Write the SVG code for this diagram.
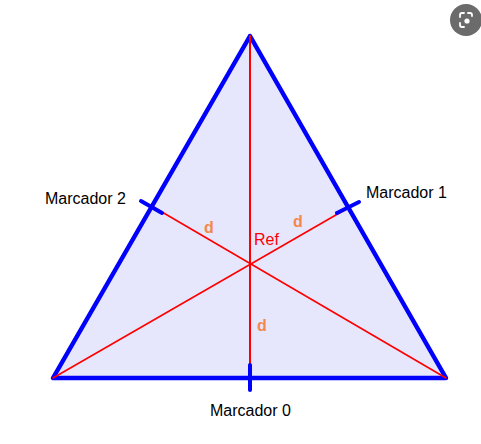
<svg xmlns="http://www.w3.org/2000/svg" width="481" height="444" viewBox="0 0 481 444">
<style>
.lbl{font-family:"Liberation Sans",Arial,sans-serif;font-size:16px;fill:#000}
.d{font-family:"Liberation Sans",Arial,sans-serif;font-size:16px;font-weight:bold;fill:#f4884a}
.red{stroke:#ff0000;fill:none;stroke-linecap:round}
.tick{stroke:#0000ff;stroke-width:4;stroke-linecap:round;fill:none}
</style>
<rect width="481" height="444" fill="#fff"/>
<g id="triangle">
<polygon points="250,36 53,378 446,378" fill="#e6e6fc" stroke="#0000ff" stroke-width="4.5" stroke-linejoin="round"/>
</g>
<g id="connectors">
<line class="red" x1="250" y1="36" x2="250" y2="378" stroke-width="2"/>
<line class="red" x1="53" y1="378" x2="348" y2="208" stroke-width="1.6"/>
<line class="red" x1="446" y1="378" x2="150" y2="205" stroke-width="1.6"/>
</g>
<g id="marcador0">
<line class="tick" x1="250" y1="365" x2="250" y2="390"/>
<text class="lbl" x="210" y="416">Marcador 0</text>
</g>
<g id="marcador1">
<line class="tick" x1="337" y1="213" x2="359" y2="202"/>
<text class="lbl" x="366" y="198">Marcador 1</text>
</g>
<g id="marcador2">
<line class="tick" x1="141" y1="201" x2="162" y2="213"/>
<text class="lbl" x="45" y="204">Marcador 2</text>
</g>
<g id="ref">
<text x="254" y="245" font-family="Liberation Sans,Arial,sans-serif" font-size="16" fill="#ff0000">Ref</text>
</g>
<g id="distances">
<text class="d" x="204" y="233">d</text>
<text class="d" x="293" y="227">d</text>
<text class="d" x="257" y="331">d</text>
</g>
<g id="lens">
<circle cx="466" cy="20" r="16" fill="#6b6b6b"/>
<path d="M460,17 v-2 a2,2 0 0 1 2,-2 h2 M468,13 h2 a2,2 0 0 1 2,2 v1 M460,23 v2 a2,2 0 0 0 2,2 h2" stroke="#fff" stroke-width="1.8" fill="none" stroke-linecap="round"/>
<circle cx="467" cy="21" r="2.6" fill="#fff"/>
</g>
</svg>
